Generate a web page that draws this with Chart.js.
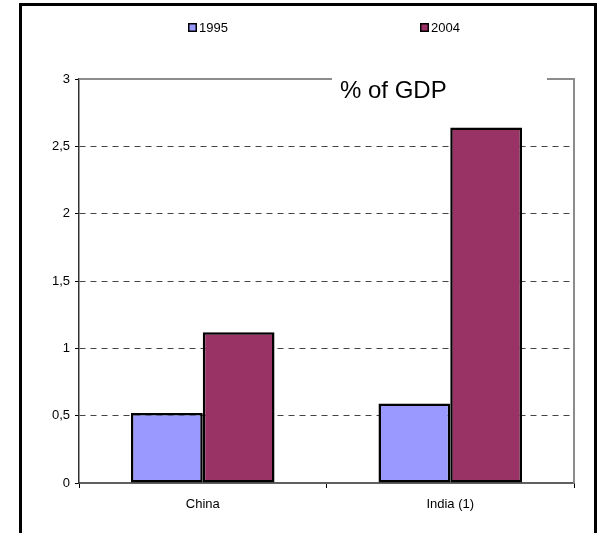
<!DOCTYPE html>
<html>
<head>
<meta charset="utf-8">
<script src="https://cdn.jsdelivr.net/npm/chart.js@4/dist/chart.umd.min.js"></script>
<style>
    body { margin: 0; background: #fff; }
    #wrap { width: 598px; height: 533px; }
</style>
</head>
<body>
<div id="wrap"><canvas id="grafica" width="598" height="533"></canvas></div>
<script>
// datos de la gráfica
const paises = ['China', 'India (1)'];
const valores1995 = [0.52, 0.59];
const valores2004 = [1.12, 2.64];
const ticksY = ['0', '0,5', '1', '1,5', '2', '2,5', '3'];
const titulo = '% of GDP';

const FUENTE = 'Arial, "Liberation Sans", sans-serif';

/**
 * Plugin para dibujar el marco exterior, el borde del área, la leyenda y el título
 */
const decoracion = {
    id: 'decoracion',
    beforeDraw(chart) {
        const ctx = chart.ctx;
        ctx.save();
        // marco exterior (sin borde inferior)
        ctx.strokeStyle = '#000';
        ctx.lineWidth = 3;
        ctx.beginPath();
        ctx.moveTo(20.5, 540);
        ctx.lineTo(20.5, 4.5);
        ctx.lineTo(595.5, 4.5);
        ctx.lineTo(595.5, 540);
        ctx.stroke();
        ctx.restore();
    },
    afterDatasetsDraw(chart) {
        const ctx = chart.ctx;
        const a = chart.chartArea;
        ctx.save();
        // borde superior y derecho del área (gris), con hueco para el título
        ctx.strokeStyle = '#8c8c8c';
        ctx.lineWidth = 2;
        ctx.beginPath();
        ctx.moveTo(a.left, a.top);
        ctx.lineTo(332, a.top);
        ctx.moveTo(547, a.top);
        ctx.lineTo(a.right, a.top);
        ctx.lineTo(a.right, a.bottom);
        ctx.stroke();
        // título dentro del área
        ctx.fillStyle = '#000';
        ctx.font = '24px ' + FUENTE;
        ctx.textBaseline = 'alphabetic';
        ctx.textAlign = 'left';
        ctx.fillText(titulo, 340, 98);
        // leyenda
        const posiciones = [188, 420];
        ctx.font = '13px ' + FUENTE;
        ctx.textBaseline = 'middle';
        chart.data.datasets.forEach((ds, i) => {
            const x = posiciones[i];
            ctx.fillStyle = '#000';
            ctx.fillRect(x, 23, 9, 9);
            ctx.fillStyle = ds.backgroundColor;
            ctx.fillRect(x + 1.5, 24.5, 6, 6);
            ctx.fillStyle = '#000';
            ctx.fillText(ds.label, x + 11, 28);
        });
        ctx.restore();
    }
};

const element = document.getElementById('grafica').getContext('2d');
const graph = new Chart(element, {
    type: 'bar',
    data: {
        labels: paises,
        datasets: [{
            label: '1995',
            data: valores1995,
            backgroundColor: '#9999FF',
            borderColor: '#000',
            borderWidth: 2.5,
            borderSkipped: false
        }, {
            label: '2004',
            data: valores2004,
            backgroundColor: '#993366',
            borderColor: '#000',
            borderWidth: 2.5,
            borderSkipped: false
        }]
    },
    options: {
        responsive: false,
        animation: false,
        categoryPercentage: 0.58,
        barPercentage: 1,
        layout: {
            padding: { left: 20, right: 24, top: 79, bottom: 20 }
        },
        plugins: {
            legend: { display: false },
            title: { display: false },
            tooltip: { enabled: false }
        },
        scales: {
            x: {
                afterFit: (scale) => { scale.height = 30; },
                grid: {
                    offset: true,
                    drawOnChartArea: false,
                    drawTicks: true,
                    tickLength: 5,
                    tickColor: '#000'
                },
                border: { color: '#606060', width: 2 },
                ticks: {
                    color: '#000',
                    padding: 9,
                    font: { family: FUENTE, size: 13 }
                }
            },
            y: {
                min: 0,
                max: 3,
                afterFit: (scale) => { scale.width = 59; },
                grid: {
                    color: (c) => (c.tick && (c.tick.value === 0 || c.tick.value === 3)) ? 'rgba(0,0,0,0)' : '#444',
                    lineWidth: 1,
                    tickLength: 4,
                    tickColor: '#000',
                    tickBorderDash: []
                },
                border: { color: '#333', width: 1.5, dash: [6, 5] },
                ticks: {
                    stepSize: 0.5,
                    color: '#000',
                    padding: 5,
                    font: { family: FUENTE, size: 13 },
                    callback: (value, index) => ticksY[index]
                }
            }
        }
    },
    plugins: [decoracion]
});
</script>
</body>
</html>
